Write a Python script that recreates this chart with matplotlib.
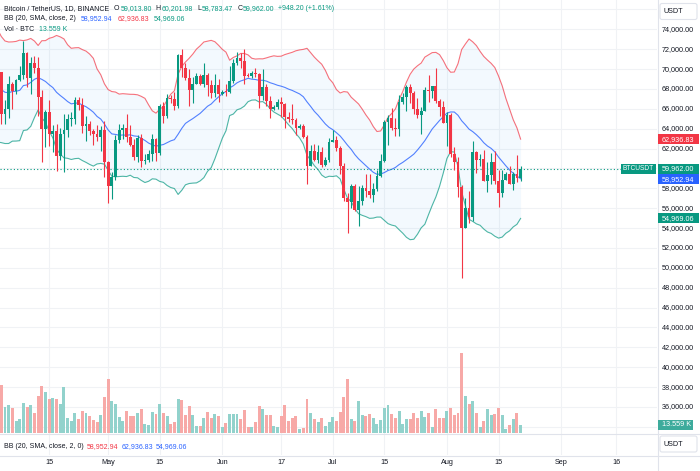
import numpy as np
import pandas as pd
import matplotlib
matplotlib.use("Agg")
import matplotlib.pyplot as plt
import matplotlib.dates as mdates
import matplotlib.transforms as mtransforms
from matplotlib.patches import Rectangle, FancyBboxPatch

plt.rcParams['font.family'] = ['Liberation Sans', 'DejaVu Sans']

# ---------------- data ----------------
# closes used only to warm up the BB(20) (Mar 13 .. Apr 1, 2024)
warmup_close = [73080, 71400, 69500, 65300, 68390, 67610, 61930, 67840, 65500, 63800,
                64060, 67230, 69960, 69990, 69450, 70780, 69890, 69650, 71330, 69700]

start_date = "2024-04-02"
end_date = "2024-08-21"

opens = [
    # Apr 2-30
    69700, 65460, 65960, 68500, 67830, 68900, 69360, 71620, 69140, 70590, 70060, 67190, 63920, 65660, 63420,
    63790, 61280, 63510, 63840, 64940, 64960, 66840, 66410, 64290, 64500, 63770, 63460, 63120, 63840,
    # May
    60640, 58250, 59120, 62890, 63890, 64030, 63160, 62330, 61190, 63070, 60790, 60820, 61480, 62940, 61580,
    66270, 65230, 67050, 66940, 66280, 71450, 70140, 69120, 67930, 68530, 69290, 68510, 69390, 68360, 67630, 68360,
    # Jun
    67490, 67700, 67680, 68800, 70560, 71080, 70790, 69340, 69300, 69650, 69510, 67320, 68240, 66750, 66010,
    66190, 66640, 66490, 65140, 64960, 64830, 64100, 64250, 63180, 60280, 61800, 60860, 61680, 60320, 60890,
    # Jul
    62680, 62850, 62030, 60200, 57050, 56660, 58230, 55850, 56700, 58050, 57720, 57340, 57890, 59200, 60800,
    64720, 65040, 64090, 63970, 66680, 67150, 68170, 67550, 65940, 65370, 65800, 67900, 67810, 68250, 66780, 66190,
    # Aug 1-21
    64620, 65350, 61500, 60690, 58160, 54020, 56040, 55130, 61700, 60880, 60940, 58710, 59350, 60600, 58740,
    57560, 58870, 59480, 58440, 59490, 59013.80,
]
highs = [
    69710, 66900, 69290, 68720, 69000, 70330, 72800, 71760, 71170, 71300, 71230, 67930, 65840, 66870, 64370,
    64500, 64120, 65480, 65450, 65700, 67230, 67200, 67080, 65300, 64800, 63920, 64370, 64230, 64730,
    60780, 59600, 63320, 64490, 64500, 65500, 64390, 62990, 63400, 63470, 61490, 61820, 63450, 63100, 66450,
    66700, 67450, 67400, 67700, 71500, 71980, 70620, 70040, 69220, 69560, 69500, 70600, 69560, 68900, 69500, 69000,
    67860, 68450, 70280, 71060, 71760, 71620, 71990, 69560, 69850, 70150, 69560, 69990, 68450, 67300, 66400,
    66990, 67200, 66580, 65730, 66480, 65070, 64520, 64500, 63370, 62370, 62480, 62390, 62200, 61200, 63060,
    63840, 63290, 62280, 60500, 57500, 58480, 58480, 58240, 58300, 59470, 59450, 58530, 59850, 61420, 64900,
    65390, 66130, 65120, 67390, 67600, 68370, 68480, 67800, 67100, 66170, 68230, 69400, 68310, 70080, 66990, 66800,
    65660, 65600, 62200, 61120, 58300, 57040, 57720, 62750, 61800, 61470, 61860, 60700, 61580, 61800, 59850,
    59820, 59690, 60260, 59600, 61400, 60201.98,
]
lows = [
    64500, 64490, 65060, 66010, 67450, 68830, 69050, 68210, 67520, 69570, 65250, 60660, 62130, 62300, 61620,
    59770, 60830, 59600, 63170, 64240, 64500, 65860, 63600, 62800, 63320, 62400, 62800, 61800, 59190,
    56550, 56940, 58850, 62580, 62960, 62700, 62300, 60890, 60650, 60190, 60490, 60630, 60750, 60750, 61320,
    64600, 65100, 66600, 65860, 66060, 69160, 68850, 66300, 66600, 68500, 68350, 68230, 67250, 67100, 67150, 66670,
    67400, 67300, 67610, 68550, 70380, 70120, 68500, 69200, 69130, 69230, 66060, 66900, 66300, 65080, 65870,
    66030, 65130, 64060, 64690, 64510, 63380, 63940, 63100, 58400, 60230, 60770, 60580, 60100, 60280, 60640,
    62650, 61760, 59430, 56770, 53490, 56020, 55750, 54260, 56280, 57160, 57050, 56590, 57760, 59120, 60630,
    62400, 63900, 63220, 63300, 66460, 65780, 66570, 65440, 65110, 63450, 65760, 66680, 67050, 66600, 65300, 64530,
    62300, 61130, 59850, 57120, 49000, 53970, 54560, 54700, 59570, 60270, 58700, 57650, 58400, 58430, 56080,
    57100, 58790, 58410, 57800, 58610, 58783.47,
]
closes = [
    65460, 65960, 68500, 67830, 68900, 69360, 71620, 69140, 70590, 70060, 67190, 63920, 65660, 63420, 63790,
    61280, 63510, 63840, 64940, 64960, 66840, 66410, 64290, 64500, 63770, 63460, 63120, 63840, 60640,
    58250, 59120, 62890, 63890, 64030, 63160, 62330, 61190, 63070, 60790, 60820, 61480, 62940, 61580, 66270,
    65230, 67050, 66940, 66280, 71450, 70140, 69120, 67930, 68530, 69290, 68510, 69390, 68360, 67630, 68360, 67490,
    67700, 67680, 68800, 70560, 71080, 70790, 69340, 69300, 69650, 69510, 67320, 68240, 66750, 66010, 66190,
    66640, 66490, 65140, 64960, 64830, 64100, 64250, 63180, 60280, 61800, 60860, 61680, 60320, 60890, 62680,
    62850, 62030, 60200, 57050, 56660, 58230, 55850, 56700, 58050, 57720, 57340, 57890, 59200, 60800, 64720,
    65040, 64090, 63970, 66680, 67150, 68170, 67550, 65940, 65370, 65800, 67900, 67810, 68250, 66780, 66190, 64620,
    65350, 61500, 60690, 58160, 54020, 56040, 55130, 61700, 60880, 60940, 58710, 59350, 60600, 58740, 57560,
    58870, 59480, 58440, 59490, 59013.80, 59962.00,
]
volumes_k = [
    77, 42, 45, 40, 20, 22, 49, 42, 45, 33, 60, 76, 66, 55, 56, 54, 46, 74, 24, 19, 33, 23, 35, 33, 28, 21, 17, 29, 58,
    87, 51, 46, 25, 19, 36, 27, 27, 32, 38, 14, 13, 34, 30, 46, 32, 27, 15, 18, 54, 53, 29, 43, 29, 11, 11, 24, 34, 24, 30, 28,
    9, 16, 31, 31, 30, 22, 37, 9, 9, 17, 44, 39, 29, 29, 11, 9, 28, 45, 20, 24, 27, 6, 8, 55, 33, 23, 18, 24, 12, 17,
    25, 19, 34, 58, 87, 22, 20, 51, 29, 27, 31, 24, 15, 21, 41, 45, 31, 24, 36, 14, 22, 22, 33, 24, 36, 25, 33, 10, 38, 24, 24,
    36, 41, 29, 33, 129, 59, 46, 52, 32, 9, 20, 39, 29, 30, 40, 29, 6.5, 13, 23, 33, 13.559,
]

grid_prices = list(range(34000, 76001, 2000))
price_labels = list(range(36000, 74001, 2000))
date_ticks = ["2024-04-15", "2024-05-01", "2024-05-15", "2024-06-01", "2024-06-17", "2024-07-01",
              "2024-07-15", "2024-08-01", "2024-08-15", "2024-09-01", "2024-09-16"]
date_tick_labels = ["15", "May", "15", "Jun", "17", "Jul", "15", "Aug", "15", "Sep", "16"]

legend_title = "Bitcoin / TetherUS, 1D, BINANCE"
ohlc_labels = [("O", "59,013.80"), ("H", "60,201.98"), ("L", "58,783.47"), ("C", "59,962.00")]
change_label = "+948.20 (+1.61%)"
bb_title = "BB (20, SMA, close, 2)"
bb_values = ["58,952.94", "62,936.83", "54,969.06"]
bb_nums = [58952.94, 62936.83, 54969.06]
vol_title = "Vol · BTC"
vol_label = "13.559 K"
bb2_title = "BB (20, SMA, close, 2, 0)"

# ---------------- style ----------------
UP = "#089981"
DN = "#F23645"
VUP = "#92d2cc"
VDN = "#f7a9a7"
BLUE = "#2962FF"
TXT = "#131722"
GRID = "#f0f2f5"
SEP = "#e0e3eb"

W, H = 700, 471
PANE_R = 657
MAIN_B = 433
PX_PER_DAY = 3.683

fig = plt.figure(figsize=(W / 100, H / 100), dpi=100, facecolor="white")

ax = fig.add_axes([0, 1 - MAIN_B / H, PANE_R / W, MAIN_B / H])
axv = ax.twinx()
axb = fig.add_axes([0, 1 - 455 / H, PANE_R / W, 22 / H], sharex=ax)
ov = fig.add_axes([0, 0, 1, 1])
for a in (ax, axv, axb, ov):
    a.axis("off")
ax.set_zorder(1)
axv.set_zorder(2)
ov.set_zorder(10)
ov.set_xlim(0, W)
ov.set_ylim(H, 0)

dates = pd.date_range(start_date, end_date)
x = mdates.date2num(dates)
o = np.array(opens, float)
h = np.array(highs, float)
l = np.array(lows, float)
c = np.array(closes, float)
v = np.array(volumes_k, float)

x0 = x[0] - 1.3 / PX_PER_DAY
x1 = x0 + PANE_R / PX_PER_DAY
ax.set_xlim(x0, x1)
ax.set_ylim(33386, 76948)
axv.set_ylim(0, MAIN_B * 1.61)
axb.set_ylim(0, 1)

# grid
for p in grid_prices:
    ax.axhline(p, color=GRID, lw=0.8, zorder=0)
tick_x = mdates.date2num(pd.to_datetime(date_ticks))
for t in tick_x:
    ax.axvline(t, color=GRID, lw=0.8, zorder=0)
    axb.axvline(t, color=GRID, lw=0.8, zorder=0)

# Bollinger Bands
all_close = pd.Series(warmup_close + closes, dtype=float)
all_dates = pd.date_range(pd.Timestamp(start_date) - pd.Timedelta(days=len(warmup_close)), end_date)
xa = mdates.date2num(all_dates)
mid = all_close.rolling(20).mean()
sd = all_close.rolling(20).std(ddof=0)
upper = mid + 2 * sd
lower = mid - 2 * sd
ax.fill_between(xa, upper, lower, color="#2196F3", alpha=0.05, lw=0, zorder=1)
ax.plot(xa, upper, color=DN, lw=0.8, alpha=0.7, zorder=2)
ax.plot(xa, mid, color=BLUE, lw=0.8, alpha=0.8, zorder=2)
ax.plot(xa, lower, color=UP, lw=0.8, alpha=0.7, zorder=2)

# candles
up = c >= o
col = np.where(up, UP, DN)
ax.vlines(x, l, h, colors=col, lw=0.8, zorder=3)
body = np.maximum(np.abs(c - o), 90)
ax.bar(x, body, bottom=np.minimum(o, c), width=0.76, color=col, lw=0, zorder=4)

# last price dotted line
ax.axhline(c[-1], color=UP, lw=0.8, ls=(0, (1, 2)), zorder=2.5)

# volume
axv.bar(x, v, width=0.8, color=np.where(up, VUP, VDN), lw=0)

# ---------------- overlay texts ----------------
fig.canvas.draw()
renderer = fig.canvas.get_renderer()

def seq_text(y, parts, x_start=4, size=5.0):
    xx = x_start
    for s, color, gap in parts:
        t = ov.text(xx, y, s, color=color, fontsize=size, va="center", ha="left")
        bb = t.get_window_extent(renderer)
        xx += bb.width + gap

parts1 = [(legend_title, TXT, 5)]
for k, val in ohlc_labels:
    parts1 += [(k, TXT, 0.8), (val, UP, 4)]
parts1 += [(change_label, UP, 0)]
seq_text(8.5, parts1)
seq_text(19, [(bb_title, TXT, 5), (bb_values[0], BLUE, 5), (bb_values[1], DN, 5), (bb_values[2], UP, 0)])
seq_text(29.5, [(vol_title, TXT, 5), (vol_label, UP, 0)])
seq_text(447, [(bb2_title, TXT, 3), (bb_values[0], DN, 3), (bb_values[1], BLUE, 3), (bb_values[2], BLUE, 0)])

# separators
ov.plot([PANE_R + 0.5, PANE_R + 0.5], [0, H], color=SEP, lw=0.8)
ov.plot([0, W], [MAIN_B + 0.5, MAIN_B + 0.5], color=SEP, lw=0.8)
ov.plot([0, W], [455.5, 455.5], color=SEP, lw=0.8)

# price axis labels
blend_y = mtransforms.blended_transform_factory(ov.transData, ax.transData)
for p in price_labels:
    ov.text(662, p, f"{p:,.2f}", transform=blend_y, fontsize=5.2, color=TXT, va="center", ha="left")

# x axis labels
blend_x = mtransforms.blended_transform_factory(ax.transData, ov.transData)
for t, lab in zip(tick_x, date_tick_labels):
    ov.text(t, 462, lab, transform=blend_x, fontsize=5.2, color=TXT, va="center", ha="center")

def py_of(p, axis=ax):
    return H - axis.transData.transform((x0, p))[1]

def tag(xa_, xb_, yc, text, fc, hgt=10):
    ov.add_patch(Rectangle((xa_, yc - hgt / 2), xb_ - xa_, hgt, fc=fc, ec="none", zorder=5))
    ov.text(xa_ + 4, yc, text, color="white", fontsize=5.2, va="center", ha="left", zorder=6)

y_close = py_of(c[-1])
y_mid = max(py_of(bb_nums[0]), y_close + 10.5)
tag(PANE_R + 1, 699, py_of(bb_nums[1]), bb_values[1], DN)
tag(PANE_R + 1, 699, y_mid, bb_values[0], BLUE)
tag(PANE_R + 1, 699, y_close, ohlc_labels[3][1], UP)
tag(PANE_R + 1, 699, py_of(bb_nums[2]), bb_values[2], UP)
tag(PANE_R + 1, 693, H - axv.transData.transform((x0, v[-1]))[1], "13.559 K", "#3dab9c")
# symbol tag
ov.add_patch(Rectangle((621, y_close - 5), 35, 10, fc=UP, ec="none", zorder=5))
ov.text(638.5, y_close, "BTCUSDT", color="white", fontsize=4.8, va="center", ha="center", zorder=6)

# currency boxes
for yc in (11.5, 444):
    ov.add_patch(FancyBboxPatch((660, yc - 8), 37, 16, boxstyle="round,pad=0,rounding_size=2",
                                fc="white", ec=SEP, lw=0.8, zorder=5))
    ov.text(664, yc, "USDT", color=TXT, fontsize=5.2, va="center", ha="left", zorder=6)

fig.savefig("out.png", dpi=100, facecolor="white")
